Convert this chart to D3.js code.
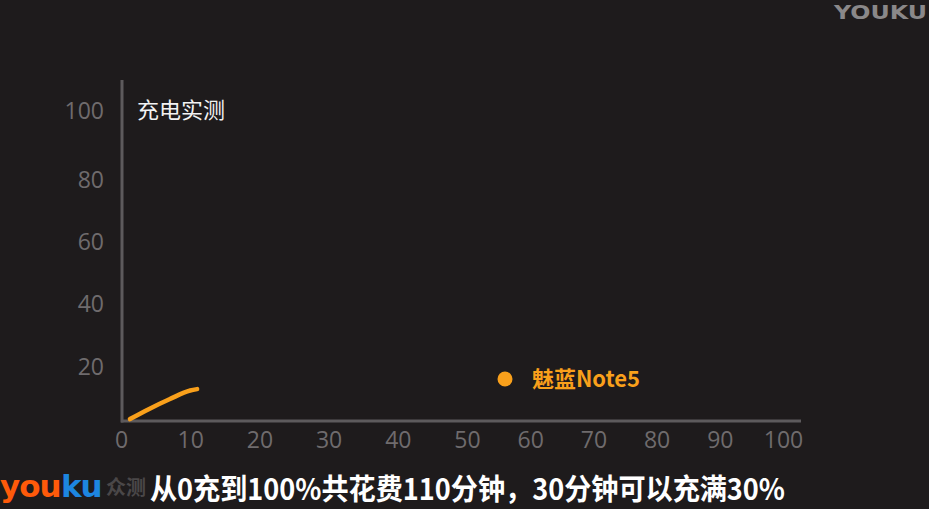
<!DOCTYPE html>
<html>
<head>
<meta charset="utf-8">
<script src="https://cdn.jsdelivr.net/npm/d3@7"></script>
<style>
    html, body { margin: 0; padding: 0; background: #1e1b1c; overflow: hidden; }
    svg { display: block; }
</style>
</head>
<body>
<div id="chart"></div>
<script>
// Charging test: minutes on x, battery % on y
let minutes = [1.3, 4, 7, 10, 11];
let percent = [0.7, 4.3, 7.9, 11.1, 11.6];

let xTicks = [0, 10, 20, 30, 40, 50, 60, 70, 80, 90, 100];
let yTicks = [20, 40, 60, 80, 100];

let seriesName = '魅蓝Note5';
let title = '充电实测';
let caption = '从0充到100%共花费110分钟，30分钟可以充满30%';

let width = 929;
let height = 509;

let orange = '#f9a01b';
let axisColor = '#5d5a5c';
let tickColor = '#6f6b6d';
let cjk = '"Noto Sans CJK SC", "Noto Sans", sans-serif';
let num = '"Open Sans", "Noto Sans", sans-serif';

let svg = d3.select('#chart').append('svg')
    .attr('width', width)
    .attr('height', height);

svg.append('rect')
    .attr('width', width)
    .attr('height', height)
    .attr('fill', '#1e1b1c');

// The video's tick spacing is uneven, so use piecewise scales
let x = d3.scaleLinear()
    .domain([0, 50, 100])
    .range([121, 467, 783]);

let y = d3.scaleLinear()
    .domain([0, 20, 80, 100])
    .range([421, 366, 179, 110]);

// Axis lines
svg.append('line')
    .attr('x1', x(0) + 1).attr('x2', x(0) + 1)
    .attr('y1', 80).attr('y2', y(0) + 1.5)
    .attr('stroke', axisColor).attr('stroke-width', 3);

svg.append('line')
    .attr('x1', x(0)).attr('x2', 801)
    .attr('y1', y(0)).attr('y2', y(0))
    .attr('stroke', axisColor).attr('stroke-width', 3);

// Tick labels via d3 axes, domain hidden
let xAxis = d3.axisBottom(x).tickValues(xTicks).tickSize(0).tickPadding(0);
let yAxis = d3.axisLeft(y).tickValues(yTicks).tickSize(0).tickPadding(0);

let gx = svg.append('g')
    .attr('transform', `translate(0, ${y(0)})`)
    .call(xAxis);
gx.select('.domain').remove();
gx.selectAll('text')
    .attr('y', 19)
    .attr('dy', '0.35em')
    .attr('fill', tickColor)
    .style('font-family', num)
    .style('font-size', '23px');

let gy = svg.append('g')
    .attr('transform', 'translate(104, 0)')
    .call(yAxis);
gy.select('.domain').remove();
gy.selectAll('text')
    .attr('x', 0)
    .attr('dy', '0.35em')
    .attr('fill', tickColor)
    .style('font-family', num)
    .style('font-size', '23px');

// Title
svg.append('text')
    .attr('x', 137)
    .attr('y', 110)
    .attr('dy', '0.35em')
    .attr('fill', '#f2f2f2')
    .style('font-family', cjk)
    .style('font-size', '22px')
    .text(title);

// Charging curve
let points = minutes.map((m, i) => [m, percent[i]]);
let line = d3.line()
    .x(d => x(d[0]))
    .y(d => y(d[1]))
    .curve(d3.curveMonotoneX);

svg.append('path')
    .datum(points)
    .attr('d', line)
    .attr('fill', 'none')
    .attr('stroke', orange)
    .attr('stroke-width', 4.5)
    .attr('stroke-linecap', 'round');

// Legend
svg.append('circle')
    .attr('cx', 505)
    .attr('cy', 379)
    .attr('r', 7.5)
    .attr('fill', orange);

svg.append('text')
    .attr('x', 532)
    .attr('y', 379)
    .attr('dy', '0.35em')
    .attr('fill', orange)
    .attr('textLength', 108)
    .attr('lengthAdjust', 'spacingAndGlyphs')
    .style('font-family', cjk)
    .style('font-size', '22px')
    .style('font-weight', 'bold')
    .text(seriesName);

// Caption
svg.append('text')
    .attr('x', 150)
    .attr('y', 490)
    .attr('dy', '0.35em')
    .attr('fill', '#ffffff')
    .attr('textLength', 635)
    .attr('lengthAdjust', 'spacingAndGlyphs')
    .style('font-family', cjk)
    .style('font-size', '29px')
    .style('font-weight', 'bold')
    .text(caption);

// Watermarks
svg.append('text')
    .attr('x', 834)
    .attr('y', 12)
    .attr('dy', '0.35em')
    .attr('fill', '#8a8889')
    .attr('textLength', 93)
    .attr('lengthAdjust', 'spacingAndGlyphs')
    .style('font-family', '"DejaVu Sans", sans-serif')
    .style('font-size', '20px')
    .style('font-weight', 'bold')
    .text('YOUKU');

let logoFont = '"DejaVu Sans", sans-serif';
svg.append('text')
    .attr('x', 0)
    .attr('y', 497)
    .attr('fill', '#ff5a0a')
    .style('font-family', logoFont)
    .style('font-size', '31px')
    .style('font-weight', 'bold')
    .style('letter-spacing', '-1px')
    .text('you');

svg.append('text')
    .attr('x', 61)
    .attr('y', 497)
    .attr('fill', '#1d86e0')
    .style('font-family', logoFont)
    .style('font-size', '31px')
    .style('font-weight', 'bold')
    .style('letter-spacing', '-1px')
    .text('ku');

svg.append('text')
    .attr('x', 106)
    .attr('y', 488)
    .attr('dy', '0.35em')
    .attr('fill', '#4a4748')
    .style('font-family', cjk)
    .style('font-size', '20px')
    .style('font-weight', 'bold')
    .text('众测');
</script>
</body>
</html>
